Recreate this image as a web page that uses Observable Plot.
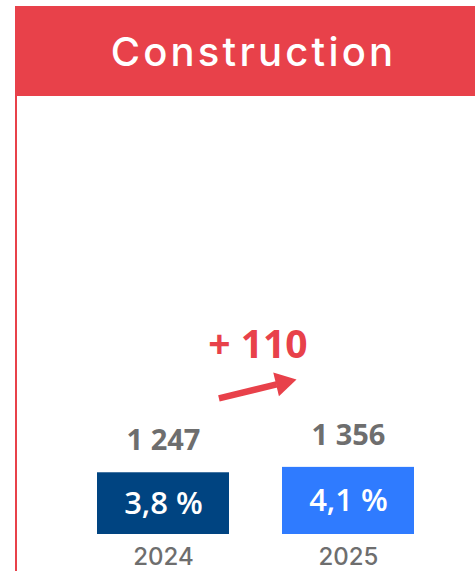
<!DOCTYPE html>
<html><head><meta charset="utf-8">
<script src="https://cdn.jsdelivr.net/npm/d3@7"></script>
<script src="https://cdn.jsdelivr.net/npm/@observablehq/plot@0.6"></script>
<style>
body{margin:0;background:#fff;width:475px;height:571px;overflow:hidden;position:relative;font-family:"Open Sans",sans-serif}
#header{position:absolute;left:15px;top:6px;width:460px;height:90px;background:#E8414A;color:#fff;font-family:Inter,sans-serif;font-size:40px;font-weight:500;letter-spacing:3.2px;display:flex;align-items:center;justify-content:center;padding-left:17px;box-sizing:border-box}
#rule{position:absolute;left:14.5px;top:96px;width:2.5px;height:475px;background:#E8414A}
#chart{position:absolute;left:0;top:96px}
</style></head><body>
<div id="header"></div>
<div id="rule"></div>
<div id="chart"></div>
<script>
const title = "Construction";
const years = ["2024", "2025"];
const employment = [1247, 1356];
const valueLabels = ["1 247", "1 356"];
const shareLabels = ["3,8 %", "4,1 %"];
const barColors = ["#004481", "#2F7BFF"];
const changeLabel = "+ 110";
const arrowLevels = [2478, 3387];
const red = "#E8414A";
const grey = "#6E6E6E";

document.getElementById("header").textContent = title;

const data = years.map((year, i) => ({year, value: employment[i], label: valueLabels[i], share: shareLabels[i]}));
const change = [{from: years[0], to: years[1], y1: arrowLevels[0], y2: arrowLevels[1], label: changeLabel}];

const chart = Plot.plot({
  width: 475,
  height: 475,
  marginLeft: 43,
  marginRight: 7,
  marginTop: 42,
  marginBottom: 37,
  style: {fontFamily: "'Open Sans', sans-serif", background: "transparent"},
  x: {domain: years, padding: 0.285},
  y: {domain: [0, 8000], axis: null},
  color: {domain: years, range: barColors},
  marks: [
    Plot.barY(data, {x: "year", y: "value", fill: "year"}),
    Plot.text(data, {x: "year", y: d => d.value / 2, text: "share", fill: "white", fontSize: 31, fontWeight: 600}),
    Plot.text(data, {x: "year", y: "value", text: "label", dy: -32, fill: grey, fontSize: 29, fontWeight: 700}),
    Plot.arrow(change, {x1: "from", x2: "to", y1: "y1", y2: "y2", stroke: red, strokeWidth: 6.5, headLength: 0, insetStart: 57, insetEnd: 74, strokeLinecap: "butt"}),
    Plot.dot(change, {x: "to", y: "y2", dx: -65.6, dy: 15.9, symbol: "triangle", r: 9, fill: red, stroke: null, rotate: 76.4}),
    Plot.text(change, {x: "from", y: d => (d.y1 + d.y2) / 2, text: "label", dx: 94.5, dy: -44, fill: red, fontSize: 39, fontWeight: 700}),
    Plot.axisX({tickSize: 0, tickPadding: 13, fontSize: 24, fontWeight: 500, color: grey, label: null, fontFamily: "Inter, sans-serif"})
  ]
});
document.getElementById("chart").appendChild(chart);
</script>
</body></html>
